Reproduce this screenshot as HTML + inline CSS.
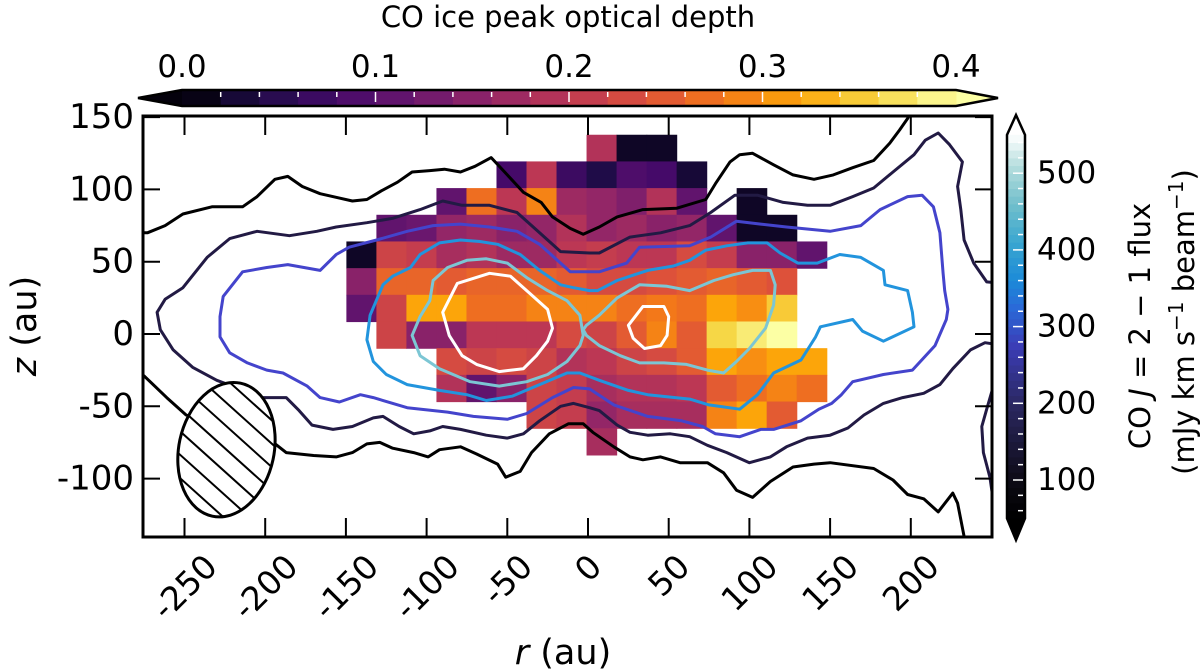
<!DOCTYPE html>
<html><head><meta charset="utf-8">
<style>
html,body{margin:0;padding:0;background:#fff;}
svg{display:block;font-family:"DejaVu Sans","Liberation Sans",sans-serif;}
</style></head>
<body>
<svg id="chart" width="1200" height="672" viewBox="0 0 1200 672" xmlns="http://www.w3.org/2000/svg">
<defs>
<clipPath id="plotClip"><rect x="143" y="116" width="849" height="421"/></clipPath>
</defs>
<g id="heat" clip-path="url(#plotClip)"></g>
<g id="contours" clip-path="url(#plotClip)"></g>
<g id="beam"></g>
<g id="axes"></g>
<g id="cbarTop"></g>
<g id="cbarRight"></g>
</svg>
<script>
// ---------- data ----------
const xTicks = [-250,-200,-150,-100,-50,0,50,100,150,200];
const yTicks = [150,100,50,0,-50,-100];
const gridR0 = -149.7, gridDR = 18.6, gridZ0 = 137.8, gridDZ = 18.45;
const N = null;
const tauRow0  = [N,N,N,N,N,N,N,N,0.19,0.02,0.02,N,N,N,N,N];
const tauRow1  = [N,N,N,N,N,0.08,0.2,0.07,0.04,0.09,0.08,0.03,N,N,N,N];
const tauRow2  = [N,N,N,0.11,0.27,0.2,0.29,0.17,0.16,0.14,0.19,0.11,N,0.02,N,N];
const tauRow3  = [N,0.11,0.12,0.16,0.17,0.15,0.16,0.19,0.16,0.17,0.15,0.16,0.11,0.02,0.02,N];
const tauRow4  = [0.02,0.22,0.21,0.18,0.19,0.17,0.17,0.2,0.21,0.2,0.2,0.23,0.21,0.15,0.15,0.11];
const tauRow5  = [0.15,0.26,0.26,0.25,0.26,0.26,0.26,0.25,0.23,0.23,0.24,0.25,0.26,0.25,0.24,N];
const tauRow6  = [0.11,0.22,0.32,0.32,0.27,0.27,0.29,0.29,0.29,0.27,0.28,0.27,0.32,0.3,0.35,N];
const tauRow7  = [N,0.22,0.15,0.15,0.2,0.2,0.2,0.23,0.22,0.25,0.29,0.25,0.36,0.38,0.4,N];
const tauRow8  = [N,N,N,0.23,0.22,0.23,0.22,0.19,0.2,0.22,0.23,0.25,0.32,0.3,0.32,0.32];
const tauRow9  = [N,N,N,0.19,0.11,0.15,0.22,0.21,0.18,0.19,0.19,0.2,0.25,0.27,0.29,0.27];
const tauRow10 = [N,N,N,N,N,N,0.22,0.21,0.16,0.18,0.18,0.18,0.29,0.32,0.25,N];
const tauRow11 = [N,N,N,N,N,N,N,N,0.18,N,N,N,N,N,N,N];
const tauRows = [tauRow0,tauRow1,tauRow2,tauRow3,tauRow4,tauRow5,tauRow6,tauRow7,tauRow8,tauRow9,tauRow10,tauRow11];

const contourBlackTop = [[-285,70],[-273,70],[-262,75],[-251,83],[-233,88],[-214,88],[-205,95],[-194,107],[-186,109],[-177,102],[-166,97],[-154,94],[-146,92],[-137,93],[-128,99],[-118,105],[-109,112],[-98,113],[-89,114],[-79,112],[-70,116],[-60,122],[-50,110],[-40,98],[-29,91],[-22,81],[-11,73],[-3,69],[7,74],[18,81],[34,86],[55,87],[73,93],[79,104],[88,119],[94,124],[102,125],[115,117],[127,110],[140,107],[152,110],[164,115],[177,120],[187,132],[193,141],[198,149],[201,155]];
const contourBlackBottom = [[-285,-25],[-275,-29],[-261,-44],[-249,-56],[-195,-75],[-187,-82],[-170,-84],[-156,-85],[-146,-82],[-137,-76],[-129,-75],[-121,-79],[-108,-82],[-99,-85],[-92,-80],[-79,-78],[-69,-83],[-56,-90],[-51,-99],[-42,-95],[-35,-82],[-24,-69],[-12,-62],[-3,-62],[3,-68],[16,-78],[26,-85],[34,-87],[45,-85],[57,-89],[74,-89],[84,-96],[92,-108],[102,-113],[113,-102],[127,-92],[140,-90],[150,-89],[177,-93],[189,-101],[198,-111],[208,-114],[217,-123],[226,-110],[229,-117],[233,-140],[234,-146]];
const contourNavy = [[258,35],[247,36],[239,49],[233,65],[231,86],[229,102],[232,119],[224,131],[217,139],[209,134],[202,124],[189,112],[177,101],[164,95],[150,89],[136,89],[121,91],[105,96],[91,96],[76,84],[63,75],[45,70],[26,67],[7,56],[1,56],[-17,57],[-30,70],[-44,84],[-61,89],[-78,89],[-90,92],[-104,86],[-121,80],[-137,77],[-156,74],[-168,71],[-185,68],[-205,71],[-222,66],[-236,53],[-251,32],[-262,24],[-267,15],[-265,3],[-257,-11],[-245,-23],[-230,-32],[-218,-37],[-202,-44],[-187,-44],[-179,-53],[-171,-63],[-158,-66],[-146,-64],[-133,-58],[-127,-57],[-117,-64],[-108,-69],[-98,-67],[-90,-64],[-79,-66],[-63,-70],[-50,-72],[-40,-69],[-30,-60],[-17,-50],[-9,-48],[1,-51],[7,-53],[18,-63],[26,-68],[37,-70],[51,-69],[63,-71],[74,-77],[86,-82],[100,-89],[113,-85],[123,-78],[136,-72],[150,-70],[161,-65],[171,-56],[183,-48],[195,-44],[208,-41],[218,-35],[226,-24],[237,-11],[246,-6],[258,-8]];
const contourNavyEdge = [[258,-26],[252,-33],[247,-52],[244,-64],[245,-82],[249,-99],[252,-122],[254,-145]];
const contourIndigo = [[-228,12],[-226,26],[-214,43],[-199,46],[-186,48],[-166,44],[-156,55],[-148,60],[-131,65],[-112,71],[-96,75],[-79,76],[-61,74],[-44,71],[-30,62],[-11,43],[7,43],[24,49],[32,60],[63,61],[76,67],[92,78],[107,76],[123,74],[150,71],[169,75],[181,86],[198,95],[207,96],[214,88],[218,70],[220,42],[221,30],[223,17],[222,10],[215,-8],[201,-25],[183,-28],[164,-33],[157,-42],[151,-48],[143,-52],[132,-60],[115,-66],[107,-66],[94,-71],[79,-69],[71,-64],[58,-60],[37,-57],[16,-49],[1,-38],[-9,-37],[-22,-44],[-38,-55],[-50,-59],[-71,-57],[-87,-54],[-112,-51],[-133,-44],[-141,-42],[-154,-47],[-166,-44],[-174,-36],[-189,-27],[-199,-25],[-211,-20],[-222,-13],[-228,-2]];
const contourBlue = [[-137,-4],[-135,13],[-127,34],[-121,40],[-110,46],[-104,55],[-92,63],[-79,65],[-67,64],[-56,62],[-42,55],[-30,44],[-17,34],[-9,32],[1,30],[6,30],[18,37],[37,44],[53,47],[63,51],[73,58],[86,61],[99,63],[111,63],[119,56],[130,49],[142,49],[156,55],[169,53],[183,44],[184,34],[198,30],[201,15],[202,5],[183,-5],[170,2],[164,10],[144,5],[141,-2],[132,-18],[115,-27],[105,-42],[94,-52],[75,-49],[63,-45],[37,-42],[25,-39],[7,-32],[-5,-27],[-13,-27],[-30,-35],[-47,-43],[-63,-46],[-75,-42],[-92,-39],[-112,-35],[-125,-28],[-133,-19]];
const contourCyanLeft = [[-109,-1],[-104,12],[-98,23],[-96,37],[-87,46],[-75,51],[-63,52],[-50,49],[-38,39],[-25,30],[-13,23],[-5,13],[-3,-1],[-5,-8],[-13,-19],[-25,-28],[-38,-33],[-55,-36],[-73,-33],[-92,-24],[-104,-15]];
const contourCyanRight = [[-3,3],[-1,6],[7,13],[18,25],[32,34],[49,33],[63,30],[78,37],[90,41],[102,44],[113,44],[116,34],[115,20],[110,4],[100,-10],[92,-19],[84,-27],[74,-25],[61,-21],[47,-20],[32,-20],[20,-15],[7,-8],[-1,-1]];
const contourWhiteLeft = [[-81,35],[-61,42],[-48,40],[-36,28],[-25,17],[-22,4],[-25,-5],[-32,-15],[-40,-24],[-55,-26],[-69,-21],[-78,-15],[-86,-1],[-90,15]];
const contourWhiteRight = [[34,19],[47,19],[50,12],[49,-1],[45,-8],[35,-10],[28,-3],[25,6]];

const tauTicks = [0.0,0.1,0.2,0.3,0.4];
const tauTickLabels = ["0.0","0.1","0.2","0.3","0.4"];
const fluxTicks = [100,200,300,400,500];
const beamR = -224, beamZ = -80, beamWidthAu = 29.5, beamHeightAu = 47;

// ---------- scales ----------
const X = r => 588 + 1.614 * r;
const Y = z => 334 - 1.446 * z;
const SVGNS = "http://www.w3.org/2000/svg";
function mk(tag, attrs, parent){ const e=document.createElementNS(SVGNS,tag); for(const k in attrs) e.setAttribute(k,attrs[k]); parent.appendChild(e); return e; }

const infernoStops = [[0,"#000004"],[0.1,"#1f0c48"],[0.2,"#450a69"],[0.3,"#6a176e"],[0.4,"#932667"],[0.5,"#bc3754"],[0.6,"#dd513a"],[0.7,"#f37819"],[0.8,"#fca50a"],[0.9,"#f6d746"],[1,"#fcffa4"]];
const fluxStops = [[0,"#000000"],[0.1,"#0d0b16"],[0.3,"#2b2862"],[0.45,"#3b3db6"],[0.55,"#2a6ad8"],[0.62,"#1c8ad8"],[0.72,"#3aa6d0"],[0.82,"#72bfcc"],[0.92,"#b6dede"],[1,"#ffffff"]];
function hex(h){return [parseInt(h.substr(1,2),16),parseInt(h.substr(3,2),16),parseInt(h.substr(5,2),16)];}
function cmap(stops,t){ t=Math.max(0,Math.min(1,t)); for(let i=1;i<stops.length;i++){ if(t<=stops[i][0]){ const a=hex(stops[i-1][1]), b=hex(stops[i][1]); const f=(t-stops[i-1][0])/(stops[i][0]-stops[i-1][0]); return "rgb("+a.map((v,j)=>Math.round(v+(b[j]-v)*f)).join(",")+")"; } } return stops[stops.length-1][1]; }
const tauColor = v => cmap(infernoStops, v/0.4);

// ---------- heatmap ----------
const heat = document.getElementById('heat');
tauRows.forEach((row, ri) => {
  row.forEach((v, ci) => {
    if (v === null) return;
    const r0 = gridR0 + ci*gridDR, z0 = gridZ0 - ri*gridDZ;
    const x0 = X(r0), x1 = X(r0+gridDR), y0 = Y(z0), y1 = Y(z0-gridDZ);
    const c = mk('rect', {x:x0, y:y0, width:x1-x0+0.6, height:y1-y0+0.6, fill:tauColor(v)}, heat);
    
    
  });
});

// ---------- contours ----------
const cg = document.getElementById('contours');
function drawLine(pts, color, closed, name){
  const d = pts.map((p,i)=>(i?'L':'M')+X(p[0]).toFixed(1)+' '+Y(p[1]).toFixed(1)).join(' ') + (closed?' Z':'');
  const p = mk('path', {d:d, fill:'none', stroke:color, 'stroke-width':3, 'stroke-linejoin':'round'}, cg);
  
  
}
drawLine(contourBlackTop, '#000000', false, 'contour-level-1-top');
drawLine(contourBlackBottom, '#000000', false, 'contour-level-1-bottom');
drawLine(contourNavy, '#221a44', false, 'contour-level-2');
drawLine(contourNavyEdge, '#221a44', false, 'contour-level-2-edge');
drawLine(contourIndigo, '#4444cc', true, 'contour-level-3');
drawLine(contourBlue, '#2294dd', true, 'contour-level-4');
drawLine(contourCyanLeft, '#7cc6d4', true, 'contour-level-5-left');
drawLine(contourCyanRight, '#7cc6d4', true, 'contour-level-5-right');
drawLine(contourWhiteLeft, '#ffffff', true, 'contour-level-6-left');
drawLine(contourWhiteRight, '#ffffff', true, 'contour-level-6-right');

// ---------- beam ----------
const bg = document.getElementById('beam');
const bcx = X(beamR), bcy = Y(beamZ), brx = beamWidthAu*1.614, bry = beamHeightAu*1.446;
const defs = document.querySelector('defs');
const bc = mk('clipPath', {id:'beamClip'}, defs);
mk('ellipse', {cx:bcx, cy:bcy, rx:brx, ry:bry, transform:`rotate(12 ${bcx} ${bcy})`}, bc);
const be = mk('ellipse', {cx:bcx, cy:bcy, rx:brx, ry:bry, fill:'#fff', stroke:'none', transform:`rotate(12 ${bcx} ${bcy})`}, bg);
 
const hg = mk('g', {'clip-path':'url(#beamClip)'}, bg);
for (let k=-6;k<=6;k++){
  const off = k*26;
  const hl = mk('line', {x1:bcx-100+off, y1:bcy-90, x2:bcx+100+off, y2:bcy+90, stroke:'#000', 'stroke-width':2}, hg);
   
}
const bo = mk('ellipse', {cx:bcx, cy:bcy, rx:brx, ry:bry, fill:'none', stroke:'#000', 'stroke-width':3, transform:`rotate(12 ${bcx} ${bcy})`}, bg);
 

// ---------- axes ----------
const ax = document.getElementById('axes');
const frame = mk('rect', {x:143, y:116, width:849, height:421, fill:'none', stroke:'#000', 'stroke-width':3}, ax);
 
xTicks.forEach(v=>{
  const x = X(v);
  mk('line', {x1:x, y1:537, x2:x, y2:518, stroke:'#000','stroke-width':2}, ax);
  mk('line', {x1:x, y1:116, x2:x, y2:135, stroke:'#000','stroke-width':2}, ax);
  const t = mk('text', {x:0, y:0, 'font-size':33, 'text-anchor':'middle', 'dominant-baseline':'central'}, ax);
  t.textContent = String(v);
  
  
  const w = t.getComputedTextLength ? t.getComputedTextLength() : 60;
  const h = (w + 24) * 0.7071;
  t.setAttribute('transform', `translate(${x},${552 + h/2}) rotate(-45)`);
});
yTicks.forEach(v=>{
  const y = Y(v);
  mk('line', {x1:143, y1:y, x2:160, y2:y, stroke:'#000','stroke-width':2}, ax);
  mk('line', {x1:992, y1:y, x2:975, y2:y, stroke:'#000','stroke-width':2}, ax);
  const t = mk('text', {x:134, y:y, 'font-size':34, 'text-anchor':'end', 'dominant-baseline':'central'}, ax);
  t.textContent = String(v);
  
  
});
const xl = mk('text', {x:563, y:664, 'font-size':35, 'text-anchor':'middle'}, ax);
xl.innerHTML = '<tspan font-style="italic">r</tspan> (au)';
 
const yl = mk('text', {x:0, y:0, 'font-size':35, 'text-anchor':'middle', transform:'translate(36,326) rotate(-90)'}, ax);
yl.innerHTML = '<tspan font-style="italic">z</tspan> (au)';
 

// ---------- top colorbar ----------
const ct = document.getElementById('cbarTop');
const TX = v => 182 + (956-182) * v / 0.4;
const cTop = 90, cBot = 106;
mk('polygon', {points:`${TX(0)},${cTop} 138,${(cTop+cBot)/2} ${TX(0)},${cBot}`, fill:tauColor(0.005)}, ct);
mk('polygon', {points:`${TX(0.4)},${cTop} 998,${(cTop+cBot)/2} ${TX(0.4)},${cBot}`, fill:tauColor(0.4)}, ct);
for (let i=0;i<20;i++){
  const v0 = i*0.02;
  mk('rect', {x:TX(v0), y:cTop, width:TX(v0+0.02)-TX(v0)+0.5, height:cBot-cTop, fill:tauColor(v0+0.01)}, ct);
  if (i>0) mk('line', {x1:TX(v0), y1:cTop+2, x2:TX(v0), y2:cTop+(i%5===0?12:7), stroke:'#fff','stroke-width':1.5}, ct);
}
const cto = mk('polygon', {points:`138,${(cTop+cBot)/2} ${TX(0)},${cTop} ${TX(0.4)},${cTop} 998,${(cTop+cBot)/2} ${TX(0.4)},${cBot} ${TX(0)},${cBot}`, fill:'none', stroke:'#000','stroke-width':2.5}, ct);
 
tauTicks.forEach((v,i)=>{
  const t = mk('text', {x:TX(v), y:77, 'font-size':31, 'text-anchor':'middle'}, ct);
  t.textContent = tauTickLabels[i];
   
});
const ctt = mk('text', {x:568, y:27, 'font-size':29, 'text-anchor':'middle'}, ct);
ctt.textContent = 'CO ice peak optical depth';
 

// ---------- right colorbar ----------
const cr = document.getElementById('cbarRight');
const FY = v => 480 - (v-100) * 0.767;
const fL = 1007, fR = 1025, fmin = 50, fmax = 550;
const fluxColor = v => cmap(fluxStops, (v-fmin)/(fmax-fmin));
mk('polygon', {points:`${fL},${FY(fmax)} ${(fL+fR)/2},115 ${fR},${FY(fmax)}`, fill:'#ffffff'}, cr);
mk('polygon', {points:`${fL},${FY(fmin)} ${(fL+fR)/2},540 ${fR},${FY(fmin)}`, fill:'#000000'}, cr);
for (let v=fmin; v<fmax; v+=10){
  mk('rect', {x:fL, y:FY(v+10), width:fR-fL, height:FY(v)-FY(v+10)+0.5, fill:fluxColor(v+5)}, cr);
}
for (let v=60; v<=540; v+=20){
  const major = v%100===0;
  mk('line', {x1:fR-2, y1:FY(v), x2:fR-(major?12:7), y2:FY(v), stroke:'#fff','stroke-width':1.5}, cr);
}
const cro = mk('polygon', {points:`${(fL+fR)/2},115 ${fR},${FY(fmax)} ${fR},${FY(fmin)} ${(fL+fR)/2},540 ${fL},${FY(fmin)} ${fL},${FY(fmax)}`, fill:'none', stroke:'#000','stroke-width':2.5}, cr);
 
fluxTicks.forEach(v=>{
  const t = mk('text', {x:1037, y:FY(v), 'font-size':31, 'dominant-baseline':'central'}, cr);
  t.textContent = String(v);
   
});
const fr1 = mk('text', {x:0, y:0, 'font-size':29, 'text-anchor':'middle', transform:'translate(1150,326) rotate(-90)'}, cr);
fr1.innerHTML = 'CO <tspan font-style="italic">J</tspan> = 2 − 1 flux';
 
const fr2 = mk('text', {x:0, y:0, 'font-size':29, 'text-anchor':'middle', transform:'translate(1194,322) rotate(-90)'}, cr);
fr2.innerHTML = '(mJy km s<tspan dy="-11" font-size="20">−1</tspan><tspan dy="11"> beam</tspan><tspan dy="-11" font-size="20">−1</tspan><tspan dy="11">)</tspan>';
 
</script>
</body></html>
